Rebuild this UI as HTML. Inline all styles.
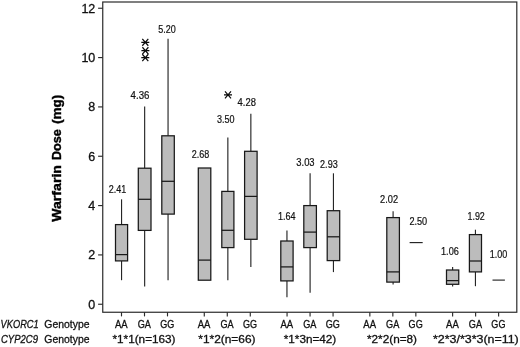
<!DOCTYPE html>
<html lang="en"><head><meta charset="utf-8"><title>Warfarin dose by VKORC1 and CYP2C9 genotype</title>
<style>
html,body{margin:0;padding:0;background:#fff;}
body{width:520px;height:347px;overflow:hidden;}
svg{display:block;will-change:transform;}
text{font-family:"Liberation Sans", "DejaVu Sans", sans-serif;fill:#111;stroke:#111;stroke-width:0.3px;}
.ax{font-size:12.5px;}
.cat{font-size:11px;}
.val{font-size:10px;stroke-width:0.2px;}
.yl{font-size:13.5px;font-weight:bold;fill:#000;stroke:#000;stroke-width:0.4px;}
.it{font-style:italic;}
.box{fill:#bcbcbc;stroke:#181818;stroke-width:1.25;}
.med{stroke:#181818;stroke-width:1.25;fill:none;}
.wh{stroke:#262626;stroke-width:1.15;fill:none;}
.fr{stroke:#2b2b2b;stroke-width:1.2;fill:none;}
.tk{stroke:#2b2b2b;stroke-width:1.15;fill:none;}
.out{stroke:#0a0a0a;stroke-width:1.2;fill:none;stroke-linecap:butt;}
</style></head><body>
<svg width="520" height="347" viewBox="0 0 520 347">
<rect x="0" y="0" width="520" height="347" fill="#ffffff"/>
<rect class="fr" x="102.75" y="2.0" width="414.05" height="310.25"/>
<line class="tk" x1="98.1" y1="304.25" x2="102.75" y2="304.25"/>
<text class="ax" x="95.3" y="308.75" text-anchor="end">0</text>
<line class="tk" x1="98.1" y1="254.92" x2="102.75" y2="254.92"/>
<text class="ax" x="95.3" y="259.42" text-anchor="end">2</text>
<line class="tk" x1="98.1" y1="205.58" x2="102.75" y2="205.58"/>
<text class="ax" x="95.3" y="210.08" text-anchor="end">4</text>
<line class="tk" x1="98.1" y1="156.25" x2="102.75" y2="156.25"/>
<text class="ax" x="95.3" y="160.75" text-anchor="end">6</text>
<line class="tk" x1="98.1" y1="106.91" x2="102.75" y2="106.91"/>
<text class="ax" x="95.3" y="111.41" text-anchor="end">8</text>
<line class="tk" x1="98.1" y1="57.58" x2="102.75" y2="57.58"/>
<text class="ax" x="95.3" y="62.08" text-anchor="end">10</text>
<line class="tk" x1="98.1" y1="8.25" x2="102.75" y2="8.25"/>
<text class="ax" x="95.3" y="12.75" text-anchor="end">12</text>
<line class="tk" x1="121.50" y1="312.25" x2="121.50" y2="316.4"/>
<line class="tk" x1="144.50" y1="312.25" x2="144.50" y2="316.4"/>
<line class="tk" x1="167.50" y1="312.25" x2="167.50" y2="316.4"/>
<line class="tk" x1="204.28" y1="312.25" x2="204.28" y2="316.4"/>
<line class="tk" x1="227.28" y1="312.25" x2="227.28" y2="316.4"/>
<line class="tk" x1="250.28" y1="312.25" x2="250.28" y2="316.4"/>
<line class="tk" x1="287.06" y1="312.25" x2="287.06" y2="316.4"/>
<line class="tk" x1="310.06" y1="312.25" x2="310.06" y2="316.4"/>
<line class="tk" x1="333.06" y1="312.25" x2="333.06" y2="316.4"/>
<line class="tk" x1="369.84" y1="312.25" x2="369.84" y2="316.4"/>
<line class="tk" x1="392.84" y1="312.25" x2="392.84" y2="316.4"/>
<line class="tk" x1="415.84" y1="312.25" x2="415.84" y2="316.4"/>
<line class="tk" x1="452.62" y1="312.25" x2="452.62" y2="316.4"/>
<line class="tk" x1="475.62" y1="312.25" x2="475.62" y2="316.4"/>
<line class="tk" x1="498.62" y1="312.25" x2="498.62" y2="316.4"/>
<text class="yl" transform="translate(60.9 221.8) rotate(-90)" textLength="56.8" lengthAdjust="spacingAndGlyphs">Warfarin</text>
<text class="yl" transform="translate(60.9 160.1) rotate(-90)" textLength="30.9" lengthAdjust="spacingAndGlyphs">Dose</text>
<text class="yl" transform="translate(60.9 124.0) rotate(-90)" textLength="29.4" lengthAdjust="spacingAndGlyphs">(mg)</text>
<line class="wh" x1="121.55" y1="199.3" x2="121.55" y2="224.6"/>
<line class="wh" x1="121.55" y1="260.9" x2="121.55" y2="280.2"/>
<rect class="box" x="115.5" y="224.6" width="12.10" height="36.30"/>
<line class="med" x1="115.5" y1="254.6" x2="127.6" y2="254.6"/>
<line class="wh" x1="144.65" y1="106.5" x2="144.65" y2="168.2"/>
<line class="wh" x1="144.65" y1="230.4" x2="144.65" y2="286.4"/>
<rect class="box" x="138.3" y="168.2" width="12.70" height="62.20"/>
<line class="med" x1="138.3" y1="199.3" x2="151.0" y2="199.3"/>
<line class="wh" x1="168.05" y1="38.8" x2="168.05" y2="135.8"/>
<line class="wh" x1="168.05" y1="214.1" x2="168.05" y2="280.2"/>
<rect class="box" x="161.8" y="135.8" width="12.50" height="78.30"/>
<line class="med" x1="161.8" y1="181.3" x2="174.3" y2="181.3"/>
<rect class="box" x="198.3" y="168.0" width="12.50" height="112.20"/>
<line class="med" x1="198.3" y1="260.1" x2="210.8" y2="260.1"/>
<line class="wh" x1="227.85" y1="137.6" x2="227.85" y2="191.4"/>
<line class="wh" x1="227.85" y1="247.6" x2="227.85" y2="280.2"/>
<rect class="box" x="221.8" y="191.4" width="12.10" height="56.20"/>
<line class="med" x1="221.8" y1="230.3" x2="233.9" y2="230.3"/>
<line class="wh" x1="250.85" y1="113.8" x2="250.85" y2="151.3"/>
<line class="wh" x1="250.85" y1="239.3" x2="250.85" y2="267.1"/>
<rect class="box" x="244.6" y="151.3" width="12.50" height="88.00"/>
<line class="med" x1="244.6" y1="196.4" x2="257.1" y2="196.4"/>
<line class="wh" x1="286.95" y1="230.4" x2="286.95" y2="241.0"/>
<line class="wh" x1="286.95" y1="280.9" x2="286.95" y2="297.2"/>
<rect class="box" x="280.8" y="241.0" width="12.30" height="39.90"/>
<line class="med" x1="280.8" y1="266.9" x2="293.1" y2="266.9"/>
<line class="wh" x1="310.10" y1="173.3" x2="310.10" y2="205.6"/>
<line class="wh" x1="310.10" y1="247.6" x2="310.10" y2="292.7"/>
<rect class="box" x="303.8" y="205.6" width="12.60" height="42.00"/>
<line class="med" x1="303.8" y1="232.1" x2="316.4" y2="232.1"/>
<line class="wh" x1="333.45" y1="173.3" x2="333.45" y2="210.7"/>
<line class="wh" x1="333.45" y1="260.6" x2="333.45" y2="272.1"/>
<rect class="box" x="327.2" y="210.7" width="12.50" height="49.90"/>
<line class="med" x1="327.2" y1="236.8" x2="339.7" y2="236.8"/>
<line class="wh" x1="393.10" y1="211.3" x2="393.10" y2="217.6"/>
<line class="wh" x1="393.10" y1="282.1" x2="393.10" y2="284.4"/>
<rect class="box" x="386.8" y="217.6" width="12.60" height="64.50"/>
<line class="med" x1="386.8" y1="271.9" x2="399.4" y2="271.9"/>
<line class="wh" x1="452.62" y1="266.9" x2="452.62" y2="270.0"/>
<line class="wh" x1="452.62" y1="284.3" x2="452.62" y2="286.4"/>
<rect class="box" x="446.5" y="270.0" width="12.25" height="14.30"/>
<line class="med" x1="446.5" y1="280.6" x2="458.75" y2="280.6"/>
<line class="wh" x1="475.45" y1="229.7" x2="475.45" y2="234.6"/>
<line class="wh" x1="475.45" y1="271.9" x2="475.45" y2="286.2"/>
<rect class="box" x="469.4" y="234.6" width="12.10" height="37.30"/>
<line class="med" x1="469.4" y1="261.0" x2="481.5" y2="261.0"/>
<line class="wh" x1="409.6" y1="242.6" x2="422.7" y2="242.6"/>
<line class="wh" x1="492.5" y1="280.1" x2="504.9" y2="280.1"/>
<path class="out" d="M141.30 42.30H149.30M142.30 38.85L148.30 45.75M148.30 38.85L142.30 45.75"/>
<path class="out" d="M141.40 50.70H149.40M142.40 47.25L148.40 54.15M148.40 47.25L142.40 54.15"/>
<path class="out" d="M141.30 57.70H149.30M142.30 54.25L148.30 61.15M148.30 54.25L142.30 61.15"/>
<path class="out" d="M224.00 94.90H232.00M225.00 91.45L231.00 98.35M231.00 91.45L225.00 98.35"/>
<text class="val" x="108.8" y="193.3" textLength="17.5" lengthAdjust="spacingAndGlyphs">2.41</text>
<text class="val" x="130.6" y="98.8" textLength="18.8" lengthAdjust="spacingAndGlyphs">4.36</text>
<text class="val" x="158.3" y="33.0" textLength="17.5" lengthAdjust="spacingAndGlyphs">5.20</text>
<text class="val" x="191.8" y="158.4" textLength="17.5" lengthAdjust="spacingAndGlyphs">2.68</text>
<text class="val" x="217.1" y="123.1" textLength="17.5" lengthAdjust="spacingAndGlyphs">3.50</text>
<text class="val" x="237.6" y="105.8" textLength="18.3" lengthAdjust="spacingAndGlyphs">4.28</text>
<text class="val" x="278.0" y="220.2" textLength="17.6" lengthAdjust="spacingAndGlyphs">1.64</text>
<text class="val" x="296.3" y="166.3" textLength="18.3" lengthAdjust="spacingAndGlyphs">3.03</text>
<text class="val" x="320.1" y="167.5" textLength="17.6" lengthAdjust="spacingAndGlyphs">2.93</text>
<text class="val" x="380.1" y="203.0" textLength="18.0" lengthAdjust="spacingAndGlyphs">2.02</text>
<text class="val" x="409.4" y="225.1" textLength="17.8" lengthAdjust="spacingAndGlyphs">2.50</text>
<text class="val" x="441.0" y="255.3" textLength="17.8" lengthAdjust="spacingAndGlyphs">1.06</text>
<text class="val" x="467.5" y="220.2" textLength="17.3" lengthAdjust="spacingAndGlyphs">1.92</text>
<text class="val" x="489.7" y="258.2" textLength="17.5" lengthAdjust="spacingAndGlyphs">1.00</text>
<text class="cat" x="114.95" y="328.3" textLength="12.7" lengthAdjust="spacingAndGlyphs">AA</text>
<text class="cat" x="137.70" y="328.3" textLength="13.2" lengthAdjust="spacingAndGlyphs">GA</text>
<text class="cat" x="160.25" y="328.3" textLength="14.1" lengthAdjust="spacingAndGlyphs">GG</text>
<text class="cat" x="197.73" y="328.3" textLength="12.7" lengthAdjust="spacingAndGlyphs">AA</text>
<text class="cat" x="220.48" y="328.3" textLength="13.2" lengthAdjust="spacingAndGlyphs">GA</text>
<text class="cat" x="243.03" y="328.3" textLength="14.1" lengthAdjust="spacingAndGlyphs">GG</text>
<text class="cat" x="280.51" y="328.3" textLength="12.7" lengthAdjust="spacingAndGlyphs">AA</text>
<text class="cat" x="303.26" y="328.3" textLength="13.2" lengthAdjust="spacingAndGlyphs">GA</text>
<text class="cat" x="325.81" y="328.3" textLength="14.1" lengthAdjust="spacingAndGlyphs">GG</text>
<text class="cat" x="363.29" y="328.3" textLength="12.7" lengthAdjust="spacingAndGlyphs">AA</text>
<text class="cat" x="386.04" y="328.3" textLength="13.2" lengthAdjust="spacingAndGlyphs">GA</text>
<text class="cat" x="408.59" y="328.3" textLength="14.1" lengthAdjust="spacingAndGlyphs">GG</text>
<text class="cat" x="446.07" y="328.3" textLength="12.7" lengthAdjust="spacingAndGlyphs">AA</text>
<text class="cat" x="468.82" y="328.3" textLength="13.2" lengthAdjust="spacingAndGlyphs">GA</text>
<text class="cat" x="491.37" y="328.3" textLength="14.1" lengthAdjust="spacingAndGlyphs">GG</text>
<text class="cat" x="112.5" y="343.3" textLength="63.00" lengthAdjust="spacingAndGlyphs">*1*1(n=163)</text>
<text class="cat" x="198.25" y="343.3" textLength="57.25" lengthAdjust="spacingAndGlyphs">*1*2(n=66)</text>
<text class="cat" x="283.75" y="343.3" textLength="52.50" lengthAdjust="spacingAndGlyphs">*1*3n=42)</text>
<text class="cat" x="367.0" y="343.3" textLength="50.00" lengthAdjust="spacingAndGlyphs">*2*2(n=8)</text>
<text class="cat" x="433.0" y="343.3" textLength="85.75" lengthAdjust="spacingAndGlyphs">*2*3/*3*3(n=11)</text>
<text class="cat it" x="0.6" y="328.4" textLength="38.1" lengthAdjust="spacingAndGlyphs">VKORC1</text>
<text class="cat" x="44.3" y="328.4" textLength="45.2" lengthAdjust="spacingAndGlyphs">Genotype</text>
<text class="cat it" x="1.0" y="343.3" textLength="37.0" lengthAdjust="spacingAndGlyphs">CYP2C9</text>
<text class="cat" x="44.3" y="343.3" textLength="45.2" lengthAdjust="spacingAndGlyphs">Genotype</text>
</svg></body></html>
